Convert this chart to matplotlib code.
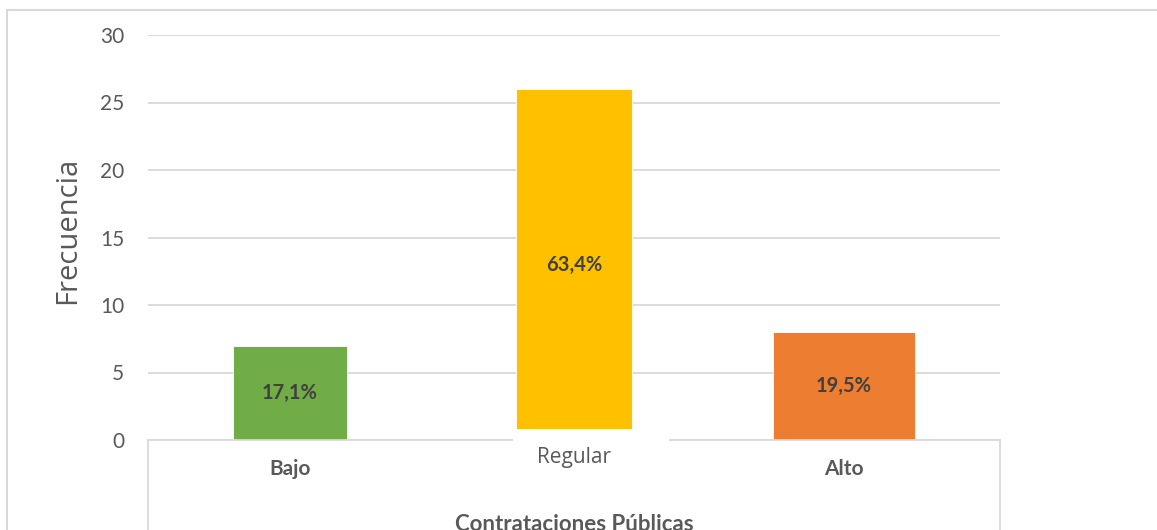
import matplotlib
matplotlib.use("Agg")
import matplotlib.pyplot as plt
from matplotlib.patches import Rectangle
from matplotlib.lines import Line2D

categories = ["Bajo", "Regular", "Alto"]
frecuencia = [7, 26, 8]
porcentajes = ["17,1%", "63,4%", "19,5%"]
colores = ["#70AD47", "#FFC000", "#ED7D31"]

plt.rcParams["font.family"] = ["Lato", "DejaVu Sans"]

W, H = 1157, 530
fig = plt.figure(figsize=(W / 100, H / 100), dpi=100)
ax = fig.add_axes([148 / W, 90 / H, 852 / W, 405 / H])

# anchos y desplazamientos
anchos = [0.40, 0.405, 0.50]
despl = [0.0, 0.0, -0.05]
x = [i + d for i, d in zip(range(len(categories)), despl)]

bars = ax.bar(x, frecuencia, width=anchos, color=colores, edgecolor="white",
              linewidth=0.6, zorder=2)
for b, p in zip(bars, porcentajes):
    ax.text(b.get_x() + b.get_width() / 2, b.get_height() / 2, p,
            ha="center", va="center", fontsize=14.5, fontweight="bold", color="#404040")

ax.set_xlim(-0.5, 2.5)
ax.set_ylim(0, 30)
ax.set_yticks(range(0, 31, 5))
ax.yaxis.grid(True, color="#d9d9d9", linewidth=1.3)
ax.set_axisbelow(True)
ax.tick_params(axis="y", length=0, pad=17, labelsize=15, labelcolor="#595959")
ax.tick_params(axis="x", length=0, pad=14, labelsize=15, labelcolor="#595959")
ax.set_xticks([0, 1, 1.95], ["Bajo", "", "Alto"])
for lbl in ax.get_xticklabels():
    lbl.set_fontweight("bold")

for s in ["top", "left", "right"]:
    ax.spines[s].set_visible(False)
ax.spines["bottom"].set_color("#d9d9d9")
ax.spines["bottom"].set_linewidth(1.3)

# caja del eje x
for xa in [0, 1]:
    ax.add_line(Line2D([xa, xa], [0, -0.3], transform=ax.transAxes,
                       color="#d9d9d9", linewidth=1.3, clip_on=False))

# caja blanca de la etiqueta "Regular"
ax.add_patch(Rectangle((0.785, -4), 0.55, 4.8, facecolor="white", edgecolor="none",
                       zorder=5, clip_on=False))
ax.text(1.0, -1.3, "Regular", ha="center", va="center", fontsize=15,
        family=["Open Sans", "DejaVu Sans"], color="#595959", zorder=6, clip_on=False)

fig.text(68 / W, 1 - 230 / H, "Frecuencia", rotation=90, ha="center", va="center",
         fontsize=21, family=["Open Sans", "DejaVu Sans"], color="#595959")
fig.text(574 / W, 1 - 514 / H, "Contrataciones Públicas", ha="center", va="top",
         fontsize=16, fontweight="bold", color="#595959")

# borde exterior
fig.patches.append(Rectangle((7 / W, -0.1), 1.2, 1 - 10 / H + 0.1, transform=fig.transFigure,
                             facecolor="none", edgecolor="#d9d9d9", linewidth=1.5))

fig.savefig("out.png", dpi=100)
